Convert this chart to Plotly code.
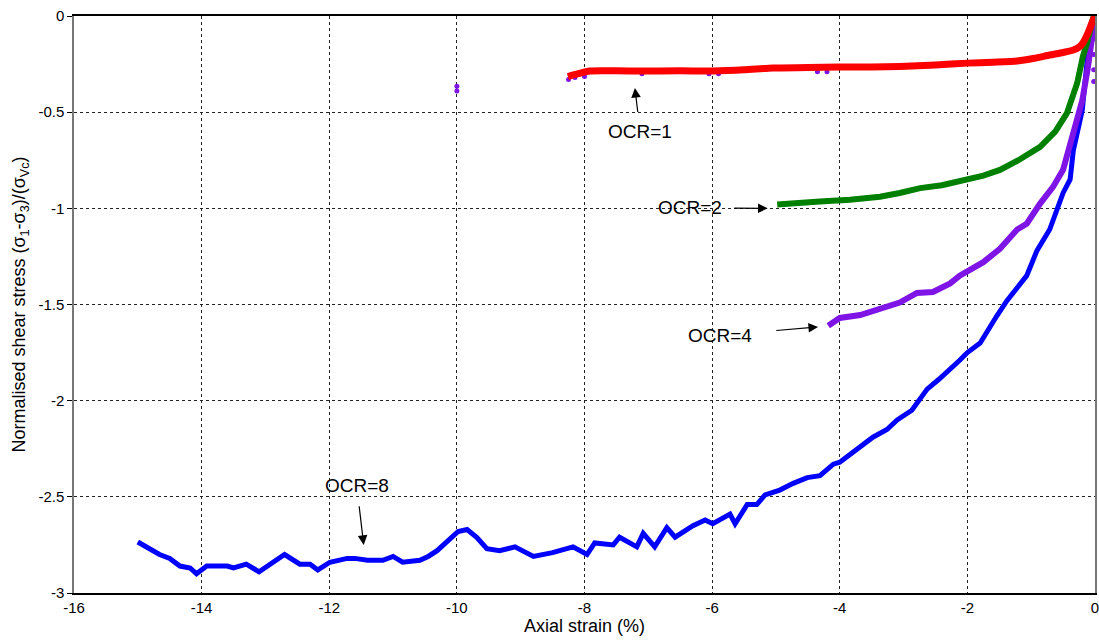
import plotly.graph_objects as go

# Axial strain (%) and normalised shear stress for each overconsolidation ratio
ocr8_x = [-15.0, -14.66, -14.5, -14.34, -14.18, -14.08, -13.92, -13.6, -13.5, -13.3,
          -13.1, -12.7, -12.46, -12.3, -12.18, -11.99, -11.72, -11.6, -11.4, -11.16,
          -11.0, -10.85, -10.58, -10.45, -10.31, -10.1, -9.98, -9.84, -9.69, -9.53,
          -9.33, -9.09, -8.8, -8.5, -8.18, -7.96, -7.84, -7.55, -7.45, -7.18,
          -7.08, -6.9, -6.71, -6.58, -6.3, -6.11, -5.99, -5.72, -5.64, -5.45,
          -5.3, -5.17, -4.94, -4.73, -4.51, -4.31, -4.1, -4.0, -3.79, -3.48,
          -3.26, -3.1, -2.87, -2.63, -2.45, -2.27, -2.12, -2.0, -1.8, -1.54,
          -1.38, -1.07, -0.91, -0.71, -0.6, -0.5, -0.39, -0.34, -0.2, -0.13,
          -0.08, 0.0]
ocr8_y = [-2.735, -2.80, -2.82, -2.86, -2.87, -2.90, -2.86, -2.86, -2.87, -2.85,
          -2.89, -2.80, -2.85, -2.85, -2.88, -2.84, -2.82, -2.82, -2.83, -2.83,
          -2.81, -2.84, -2.83, -2.81, -2.78, -2.72, -2.68, -2.67, -2.71, -2.77,
          -2.78, -2.76, -2.81, -2.79, -2.76, -2.80, -2.74, -2.75, -2.71, -2.76,
          -2.69, -2.76, -2.66, -2.71, -2.65, -2.62, -2.64, -2.59, -2.64, -2.54,
          -2.54, -2.49, -2.465, -2.43, -2.40, -2.39, -2.33, -2.32, -2.27, -2.19,
          -2.15, -2.10, -2.05, -1.94, -1.89, -1.84, -1.79, -1.75, -1.70, -1.56,
          -1.48, -1.35, -1.22, -1.11, -1.01, -0.92, -0.85, -0.70, -0.49, -0.265,
          -0.09, 0.0]

ocr4_x = [-4.18, -4.0, -3.68, -3.37, -3.06, -2.79, -2.54, -2.27, -2.12, -1.75,
          -1.49, -1.22, -1.07, -0.86, -0.66, -0.5, -0.34, -0.2, -0.11, -0.03, 0.0]
ocr4_y = [-1.61, -1.57, -1.555, -1.52, -1.49, -1.44, -1.435, -1.39, -1.35, -1.28,
          -1.21, -1.11, -1.08, -0.975, -0.89, -0.80, -0.61, -0.44, -0.265, -0.07, 0.0]

ocr2_x = [-4.98, -4.6, -4.31, -3.84, -3.37, -3.06, -2.74, -2.4, -2.0, -1.75,
          -1.49, -1.2, -0.86, -0.62, -0.44, -0.28, -0.19, -0.11, -0.03, 0.0]
ocr2_y = [-0.98, -0.975, -0.965, -0.955, -0.94, -0.92, -0.895, -0.88, -0.853, -0.83,
          -0.80, -0.75, -0.68, -0.60, -0.505, -0.35, -0.21, -0.125, -0.01, 0.0]

ocr1_x = [-8.26, -8.1, -7.92, -7.5, -7.13, -6.5, -5.99, -5.5, -5.05, -4.5,
          -4.0, -3.5, -3.06, -2.5, -2.0, -1.6, -1.22, -0.95, -0.71, -0.5,
          -0.34, -0.25, -0.19, -0.11, -0.05, 0.0]
ocr1_y = [-0.315, -0.30, -0.286, -0.285, -0.286, -0.285, -0.286, -0.28, -0.27, -0.268,
          -0.265, -0.265, -0.262, -0.255, -0.245, -0.24, -0.234, -0.22, -0.203, -0.19,
          -0.177, -0.162, -0.14, -0.088, -0.037, 0.0]

# Stray points of a repeat OCR=1 record, mostly hidden beneath the red curve
ocr1b_x = [-10.0, -10.0, -8.25, -8.15, -8.0, -7.1, -6.05, -5.9, -4.35, -4.2,
           -0.03, -0.03, -0.02, -0.02, -0.02, -0.01]
ocr1b_y = [-0.365, -0.39, -0.33, -0.32, -0.315, -0.30, -0.30, -0.30, -0.29, -0.29,
           -0.05, -0.12, -0.20, -0.28, -0.34, -0.02]

x_ticks = [-16, -14, -12, -10, -8, -6, -4, -2, 0]
x_tick_text = ["-16", "-14", "-12", "-10", "-8", "-6", "-4", "-2", "0"]
y_ticks = [-3, -2.5, -2, -1.5, -1, -0.5, 0]
y_tick_text = ["-3", "-2.5", "-2", "-1.5", "-1", "-0.5", "0"]

# Curve labels: text centre, arrow head (data units) and gap between text and arrow tail (px)
labels = ["OCR=1", "OCR=2", "OCR=4", "OCR=8"]
label_x = [-7.13, -6.35, -5.88, -11.57]
label_y = [-0.598, -0.998, -1.66, -2.44]
arrow_head_x = [-7.21, -5.13, -4.34, -11.46]
arrow_head_y = [-0.374, -1.0, -1.617, -2.75]
label_pad = [8, 12, 24, 10]

FONT = "Liberation Sans, Arial, sans-serif"
PURPLE = "#7F14E6"

fig = go.Figure()

fig.add_trace(go.Scatter(x=ocr8_x, y=ocr8_y, mode="lines",
                         line=dict(color="#0000FF", width=5), name="OCR=8"))
fig.add_trace(go.Scatter(x=ocr4_x, y=ocr4_y, mode="lines",
                         line=dict(color=PURPLE, width=6), name="OCR=4"))
fig.add_trace(go.Scatter(x=ocr2_x, y=ocr2_y, mode="lines",
                         line=dict(color="#008000", width=6), name="OCR=2"))
fig.add_trace(go.Scatter(x=ocr1b_x, y=ocr1b_y, mode="markers",
                         marker=dict(color=PURPLE, size=5), name="OCR=1 (b)"))
fig.add_trace(go.Scatter(x=ocr1_x, y=ocr1_y, mode="lines",
                         line=dict(color="#FF0000", width=7, shape="spline", smoothing=0.6),
                         name="OCR=1"))

for t, tx, ty, hx, hy, pad in zip(labels, label_x, label_y,
                                  arrow_head_x, arrow_head_y, label_pad):
    fig.add_annotation(x=hx, y=hy, ax=tx, ay=ty, axref="x", ayref="y",
                       text=t, showarrow=True, arrowhead=2, arrowsize=1.6,
                       arrowwidth=1.2, arrowcolor="black", standoff=0,
                       borderpad=pad,
                       font=dict(family=FONT, size=19, color="black"))

fig.update_layout(
    width=1099, height=644,
    margin=dict(l=74, r=4, t=16, b=51),
    paper_bgcolor="white", plot_bgcolor="white",
    showlegend=False,
    font=dict(family=FONT, size=15, color="black"),
)

fig.update_xaxes(
    range=[-16, 0], tickvals=x_ticks, ticktext=x_tick_text,
    showgrid=True, gridcolor="#222222", griddash="3px,3px", gridwidth=1,
    zeroline=False, showline=True, linecolor="black", linewidth=1.5, mirror=True,
    ticks="", tickfont=dict(size=15, color="black"), ticklabeloverflow="allow",
    title=dict(text="Axial strain (%)", font=dict(size=18), standoff=2),
    automargin=False,
)
fig.update_yaxes(
    range=[-3, 0], tickvals=y_ticks, ticktext=y_tick_text,
    showgrid=True, gridcolor="#222222", griddash="3px,3px", gridwidth=1,
    zeroline=False, showline=True, linecolor="#777777", linewidth=1.5, mirror=True,
    ticks="outside", ticklen=5, tickcolor="black", tickfont=dict(size=15, color="black"),
    ticklabeloverflow="allow",
    title=dict(text="Normalised shear stress (σ<sub>1</sub>-σ<sub>3</sub>)/(σ<sub>Vc</sub>)",
               font=dict(size=18), standoff=8),
    automargin=False,
)

fig.write_html("out.html")
